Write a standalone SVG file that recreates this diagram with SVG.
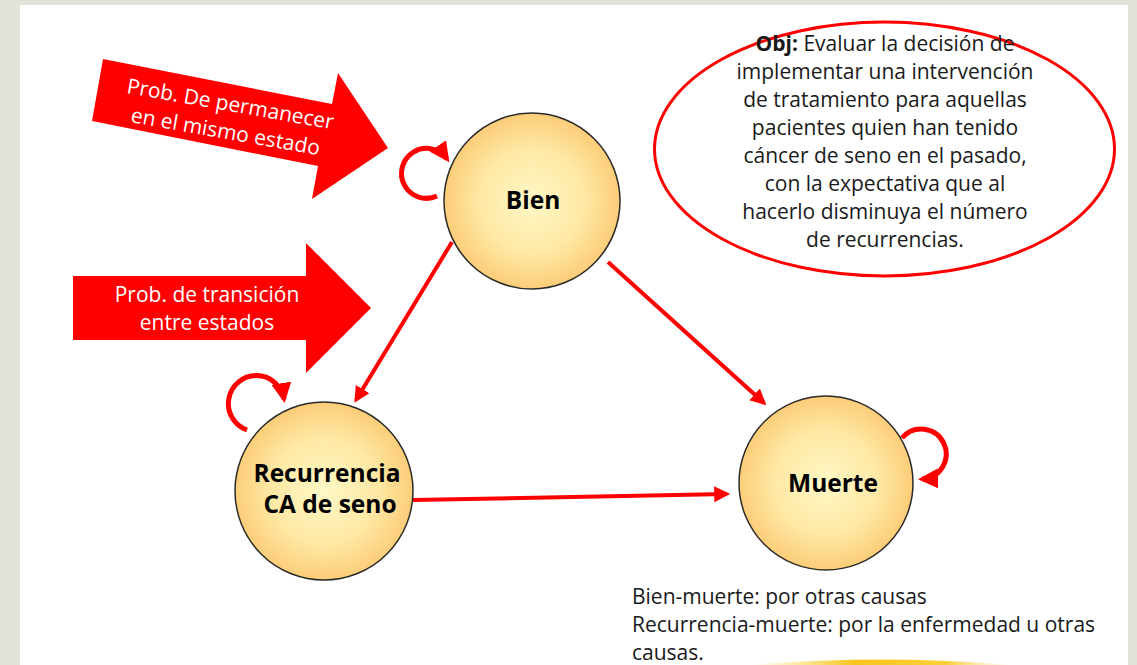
<svg xmlns="http://www.w3.org/2000/svg" width="1137" height="665" viewBox="0 0 1137 665">
<defs>
<radialGradient id="ball" cx="50%" cy="50%" r="50%">
<stop offset="0" stop-color="#fff8c6"/>
<stop offset="0.6" stop-color="#fee8a4"/>
<stop offset="1" stop-color="#fccd78"/>
</radialGradient>
<linearGradient id="swoosh" x1="0" y1="0" x2="1" y2="0">
<stop offset="0" stop-color="#fbd84a" stop-opacity="0"/>
<stop offset="0.4" stop-color="#f7c51c"/>
<stop offset="0.75" stop-color="#f9cf3a"/>
<stop offset="1" stop-color="#fbe08a" stop-opacity="0"/>
</linearGradient>
<marker id="ah" viewBox="0 0 10 10" refX="8" refY="5" markerWidth="4" markerHeight="4" orient="auto" markerUnits="strokeWidth">
<path d="M0,0 L10,5 L0,10 Z" fill="#ff0000"/>
</marker>
</defs>
<style>
.state{fill:url(#ball);stroke:#2a2a2a;stroke-width:1.5}
.lbl{font-family:"Open Sans","Liberation Sans",sans-serif;font-weight:bold;font-size:24.5px;fill:#000;text-anchor:middle}
.conn{stroke:#ff0000;stroke-width:4;fill:none;marker-end:url(#ah)}
.loop{stroke-width:5}
.big{fill:#ff0000}
.wt{font-family:"Open Sans","Liberation Sans",sans-serif;font-size:21px;fill:#fff;text-anchor:middle}
.bt{font-family:"Open Sans","Liberation Sans",sans-serif;font-size:21px;fill:#1a1a1a}
</style>
<rect x="0" y="0" width="1137" height="665" fill="#e2e3d8"/>
<rect x="20" y="5" width="1108" height="660" fill="#ffffff"/>
<path d="M750,665 Q880,654 1012,665 Z" fill="url(#swoosh)"/>

<g id="note-arrow-permanecer">
<polygon class="big" points="103,59 332,104 338,73 388,148 312,199 318,166 92,121"/>
<g transform="rotate(10 228 118)">
<text class="wt" x="228" y="111">Prob. De permanecer</text>
<text class="wt" x="228" y="139">en el mismo estado</text>
</g>
</g>

<g id="note-arrow-transicion">
<polygon class="big" points="73,276 306,276 306,243 371,308 306,373 306,340 73,340"/>
<text class="wt" x="207" y="302">Prob. de transición</text>
<text class="wt" x="207" y="330">entre estados</text>
</g>

<g id="objective">
<ellipse cx="884.5" cy="149" rx="230" ry="127" fill="#ffffff" stroke="#ff0000" stroke-width="3"/>
<text class="bt" text-anchor="middle" x="885" y="51"><tspan font-weight="bold">Obj:</tspan> Evaluar la decisión de</text>
<text class="bt" text-anchor="middle" x="885" y="79">implementar una intervención</text>
<text class="bt" text-anchor="middle" x="885" y="107">de tratamiento para aquellas</text>
<text class="bt" text-anchor="middle" x="885" y="135">pacientes quien han tenido</text>
<text class="bt" text-anchor="middle" x="885" y="163">cáncer de seno en el pasado,</text>
<text class="bt" text-anchor="middle" x="885" y="191">con la expectativa que al</text>
<text class="bt" text-anchor="middle" x="885" y="219">hacerlo disminuya el número</text>
<text class="bt" text-anchor="middle" x="885" y="247">de recurrencias.</text>
</g>

<g id="connectors">
<line class="conn" x1="452" y1="242" x2="356" y2="400"/>
<line class="conn" x1="608" y1="262" x2="764" y2="403"/>
<line class="conn" x1="413" y1="500" x2="727" y2="494"/>
<path class="conn loop" d="M437,196 A25,25 0 1 1 447,159"/>
<path class="conn loop" d="M247,430 A28,28 0 1 1 284,399"/>
<path class="conn loop" d="M902,438 A25,25 0 1 1 922,479"/>
</g>

<g id="node-bien">
<circle class="state" cx="532" cy="201" r="88"/>
<text class="lbl" x="533" y="209">Bien</text>
</g>

<g id="node-recurrencia">
<circle class="state" cx="324" cy="491" r="89"/>
<text class="lbl" x="327" y="482">Recurrencia</text>
<text class="lbl" x="330" y="513">CA de seno</text>
</g>

<g id="node-muerte">
<circle class="state" cx="826" cy="483" r="87"/>
<text class="lbl" x="833" y="492">Muerte</text>
</g>

<g id="legend">
<text class="bt" x="632" y="604">Bien-muerte: por otras causas</text>
<text class="bt" x="632" y="632">Recurrencia-muerte: por la enfermedad u otras</text>
<text class="bt" x="632" y="660">causas.</text>
</g>
</svg>
